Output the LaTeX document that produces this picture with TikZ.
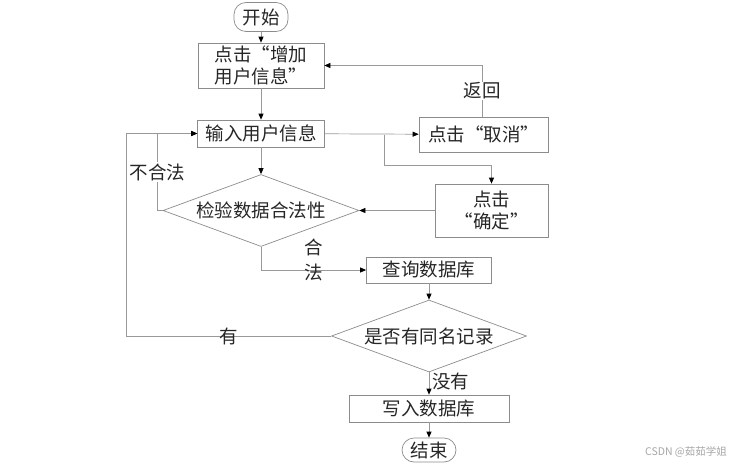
\documentclass[tikz,border=0pt]{standalone}
\usepackage{fontspec}
\newfontfamily\cjk{Noto Sans CJK SC}
\newfontfamily\cjkw[RawFeature=+fwid]{Noto Sans CJK SC}
\usetikzlibrary{arrows.meta, positioning, shapes.geometric, calc}

\begin{document}
\begin{tikzpicture}[x=1pt, y=-1pt,
    font=\cjkw\fontsize{18.5}{22}\selectfont, text=black!85,
    box/.style={rectangle, draw=black!45, line width=0.7pt, inner sep=2pt, align=center},
    term/.style={box, rounded corners=12pt, minimum width=54pt},
    test/.style={diamond, draw=black!45, line width=0.7pt, inner sep=0pt, aspect=2.7,
        minimum width=196pt, minimum height=72pt},
    arr/.style={draw=black!40, line width=0.7pt, -{Triangle[length=6pt, width=5pt, color=black]}},
    lbl/.style={fill=white, inner sep=1pt}]
    \useasboundingbox (0,0) rectangle (752,471);
    % main column
    \node (start) [term, minimum height=29pt, inner sep=1pt] at (261,17) {开始};
    \node (add) [box, minimum width=126pt, minimum height=45pt] at (261,65.5) {点击“增加\\用户信息”};
    \node (input) [box, minimum width=127pt, minimum height=27pt] at (261,133.5) {输入用户信息};
    \node (cancel) [box, minimum width=129pt, minimum height=35pt] at (483.5,134.5) {点击“取消”};
    \node (confirm) [box, minimum width=113pt, minimum height=53pt] at (491.5,210.5) {点击\\“确定”};
    \node (check) [test] at (261,210.5) {检验数据合法性};
    \node (query) [box, minimum width=125pt, minimum height=26pt] at (429,270) {查询数据库};
    \node (dup) [test, minimum width=195pt] at (429,336) {是否有同名记录};
    \node (write) [box, minimum width=160pt, minimum height=27pt] at (429,408.5) {写入数据库};
    \node (end) [term, minimum height=24pt, inner sep=1pt] at (429,450) {结束};
    \node (mark) [font=\cjk\fontsize{10.5}{12}\selectfont, text=black!35] at (686,452) {CSDN @茹茹学姐};
    \coordinate (split) at (384,134.5);
    \coordinate (loop) at (126,133.5);
    % connectors
    \draw[arr] (start) -- (add);
    \draw[arr] (add) -- (input);
    \draw[arr] (input) -- (cancel);
    \draw[arr] (split) -- ++(0,31) -| (confirm.north);
    \draw[arr] ([xshift=-1.5pt]cancel.north) |- node[lbl, pos=0.25] {返回} (add.east);
    \draw[arr] (input) -- (check);
    \draw[arr] (confirm) -- (check);
    \draw[arr] (check.west) -- ++(-5,0) |- node[lbl, pos=0.25] {不合法} (input.west);
    \draw[arr] (check.south) |- node[pos=0.75, yshift=10pt, align=center] {合\\[3pt]法} (query.west);
    \draw[arr] (query) -- (dup);
    \draw[arr] (dup.west) -| node[pos=0.25, inner sep=0pt] {有} (loop) -- (input.west);
    \draw[arr] (dup) -- node[pos=0.4, right, inner sep=3pt] {没有} (write);
    \draw[arr] (write) -- (end);
\end{tikzpicture}
\end{document}
